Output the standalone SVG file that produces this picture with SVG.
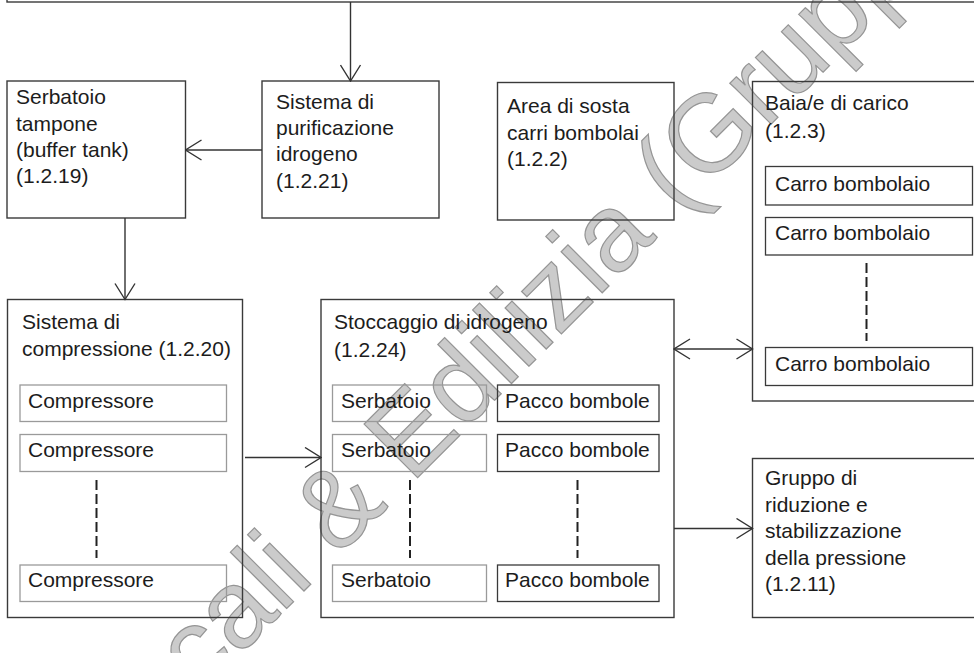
<svg xmlns="http://www.w3.org/2000/svg" width="974" height="653" viewBox="0 0 974 653">
<defs>
<style>
.box{fill:none;stroke:#3a3a3a;stroke-width:1.4}
.sub{fill:none;stroke:#3a3a3a;stroke-width:1.3}
.lite{fill:none;stroke:#9a9a9a;stroke-width:1.3}
.t{font-family:"Liberation Sans",Arial,sans-serif;font-size:21px;fill:#1c1c1c}
.c{fill:none;stroke:#333;stroke-width:1.4}
.dash{fill:none;stroke:#222;stroke-width:2;stroke-dasharray:10 4}
.wm{font-family:"Liberation Sans",Arial,sans-serif;font-size:110px;fill:#cbcbcb;stroke:#959595;stroke-width:1.2}
</style>
<marker id="ah" viewBox="0 0 18 22" refX="17" refY="11" markerWidth="18" markerHeight="22" markerUnits="userSpaceOnUse" orient="auto-start-reverse">
<path d="M1,1 L17,11 L1,21" fill="none" stroke="#333" stroke-width="1.4"/>
</marker>
</defs>
<rect width="974" height="653" fill="#fff"/>
<text class="wm" transform="rotate(-45)" x="-351" y="633">cali &amp; Edilizia (Gruppo</text>
<g id="top-box"><rect class="box" x="7" y="-30" width="1000" height="32"/></g>
<g id="buffer-tank">
<rect class="box" x="7" y="81" width="178.5" height="137"/>
<text class="t" x="16" y="104">Serbatoio</text>
<text class="t" x="16" y="130.5">tampone</text>
<text class="t" x="16" y="157">(buffer tank)</text>
<text class="t" x="16" y="183">(1.2.19)</text>
</g>
<g id="purificazione">
<rect class="box" x="262" y="81" width="177" height="137"/>
<text class="t" x="276" y="109">Sistema di</text>
<text class="t" x="276" y="135">purificazione</text>
<text class="t" x="276" y="161">idrogeno</text>
<text class="t" x="276" y="187.5">(1.2.21)</text>
</g>
<g id="area-sosta">
<rect class="box" x="497.5" y="82.5" width="176.5" height="137.5"/>
<text class="t" x="507" y="113">Area di sosta</text>
<text class="t" x="507" y="139.5">carri bombolai</text>
<text class="t" x="507" y="166">(1.2.2)</text>
</g>
<g id="baia-carico">
<rect class="box" x="752.5" y="81.5" width="240" height="319.5"/>
<text class="t" x="765" y="110">Baia/e di carico</text>
<text class="t" x="765" y="137.5">(1.2.3)</text>
<rect class="sub" x="765.5" y="166.5" width="207" height="38.5"/>
<text class="t" x="775" y="191">Carro bombolaio</text>
<rect class="sub" x="765.5" y="217.5" width="207" height="37.5"/>
<text class="t" x="775" y="240">Carro bombolaio</text>
<line class="dash" x1="866.5" y1="263" x2="866.5" y2="341"/>
<rect class="sub" x="765.5" y="347.5" width="207" height="38"/>
<text class="t" x="775" y="371">Carro bombolaio</text>
</g>
<g id="compressione">
<rect class="box" x="7.5" y="299.5" width="235" height="318"/>
<text class="t" x="22" y="329">Sistema di</text>
<text class="t" x="22" y="356">compressione (1.2.20)</text>
<rect class="lite" x="20" y="385" width="206.5" height="36.5"/>
<text class="t" x="28" y="407.5">Compressore</text>
<rect class="lite" x="20" y="434.5" width="206.5" height="37"/>
<text class="t" x="28" y="457">Compressore</text>
<line class="dash" x1="96.5" y1="480" x2="96.5" y2="558"/>
<rect class="lite" x="20" y="565" width="206.5" height="36.5"/>
<text class="t" x="28" y="587">Compressore</text>
</g>
<g id="stoccaggio">
<rect class="box" x="321" y="299.5" width="353" height="318"/>
<text class="t" x="334" y="329">Stoccaggio di idrogeno</text>
<text class="t" x="334" y="356.5">(1.2.24)</text>
<rect class="lite" x="332.5" y="385" width="154" height="36.5"/>
<text class="t" x="341" y="407.5">Serbatoio</text>
<rect class="lite" x="332.5" y="434.5" width="154" height="37"/>
<text class="t" x="341" y="457">Serbatoio</text>
<line class="dash" x1="410" y1="480" x2="410" y2="558"/>
<rect class="lite" x="332.5" y="565" width="154" height="36.5"/>
<text class="t" x="341" y="587">Serbatoio</text>
<rect class="sub" x="497.5" y="385" width="161.5" height="36.5"/>
<text class="t" x="505" y="407.5">Pacco bombole</text>
<rect class="sub" x="497.5" y="434.5" width="161.5" height="37"/>
<text class="t" x="505" y="457">Pacco bombole</text>
<line class="dash" x1="577.5" y1="480" x2="577.5" y2="558"/>
<rect class="sub" x="497.5" y="565" width="161.5" height="36.5"/>
<text class="t" x="505" y="587">Pacco bombole</text>
</g>
<g id="gruppo-riduzione">
<rect class="box" x="752.5" y="458.5" width="240" height="159"/>
<text class="t" x="765" y="485">Gruppo di</text>
<text class="t" x="765" y="511.5">riduzione e</text>
<text class="t" x="765" y="538">stabilizzazione</text>
<text class="t" x="765" y="564.5">della pressione</text>
<text class="t" x="765" y="591">(1.2.11)</text>
</g>
<g id="connectors">
<line class="c" x1="350.5" y1="2" x2="350.5" y2="81" marker-end="url(#ah)"/>
<line class="c" x1="262" y1="150" x2="185.5" y2="150" marker-end="url(#ah)"/>
<line class="c" x1="125" y1="218" x2="125" y2="299.5" marker-end="url(#ah)"/>
<line class="c" x1="245" y1="457.5" x2="321" y2="457.5" marker-end="url(#ah)"/>
<line class="c" x1="674" y1="349" x2="752.5" y2="349" marker-start="url(#ah)" marker-end="url(#ah)"/>
<line class="c" x1="674" y1="528.5" x2="752.5" y2="528.5" marker-end="url(#ah)"/>
</g>
</svg>
